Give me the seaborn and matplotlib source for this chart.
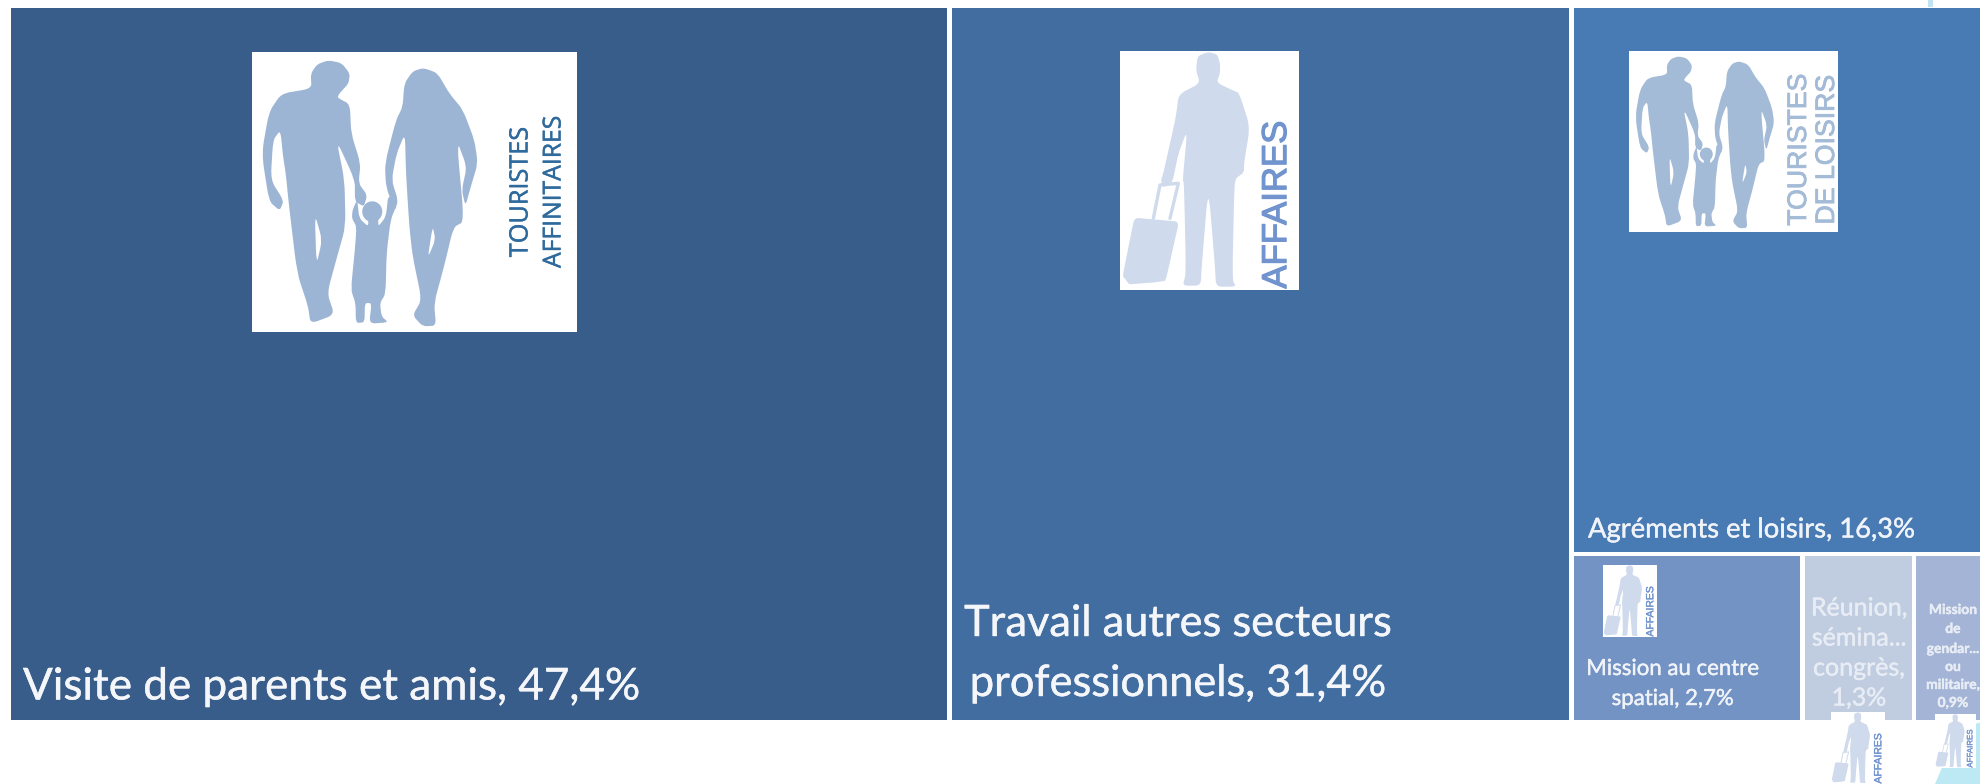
import numpy as np
import matplotlib
matplotlib.use("Agg")
import matplotlib.pyplot as plt
from matplotlib.patches import Rectangle, Polygon, Ellipse, PathPatch
from matplotlib.path import Path
import matplotlib.patheffects as pe
import seaborn as sns

# ---- data ----
categories = ["Visite de parents et amis", "Travail autres secteurs professionnels",
              "Agréments et loisirs", "Mission au centre spatial",
              "Réunion, séminaire, congrès", "Mission de gendarmerie ou militaire"]
values = [47.4, 31.4, 16.3, 2.7, 1.3, 0.9]
colors = ["#385D8A", "#426DA0", "#487AB4", "#7293C4", "#C0CCE0", "#A3B4D6"]
labels = [["Visite de parents et amis, 47,4%"],
          ["Travail autres secteurs", "professionnels, 31,4%"],
          ["Agréments et loisirs, 16,3%"],
          ["Mission au centre", "spatial, 2,7%"],
          ["Réunion,", "sémina...", "congrès,", "1,3%"],
          ["Mission", "de", "gendar...", "ou", "militaire,", "0,9%"]]

sns.set_theme(style="white")
plt.rcParams["font.family"] = ["Lato", "DejaVu Sans"]
palette = sns.color_palette(colors)

fig = plt.figure(figsize=(19.81, 7.84), dpi=100)
ax = fig.add_axes([0, 0, 1, 1])
ax.axis("off")

# ---- treemap layout derived from values ----
X0, X1, Y0, Y1, GAP = 11, 1991, 8, 720, 2.3
total = sum(values)
sx = (X1 - X0) / total
xa = X0 + values[0] * sx
xb = xa + values[1] * sx
ysplit = Y0 + (Y1 - Y0) * values[2] / sum(values[2:]) - 1.5
low = sum(values[3:])
xc = xb + (X1 - xb) * values[3] / low
xd = xc + (X1 - xb) * values[4] / low
cells = [(X0, Y0, xa, Y1), (xa, Y0, xb, Y1), (xb, Y0, X1, ysplit),
         (xb, ysplit, xc, Y1), (xc, ysplit, xd, Y1), (xd, ysplit, X1, Y1)]
for i, (a, b, c, d) in enumerate(cells):
    l = a + GAP if i else a
    t = b + GAP if b > Y0 else b
    r = c - GAP
    bt = d if d == Y1 else d - GAP
    ax.add_patch(Rectangle((l, t), r - l, bt - t, fc=palette[i], ec="none", zorder=1))

# ---- decoration behind the small pictograms ----
ax.add_patch(Polygon([(1935, 784), (1958, 730), (1981, 722), (1981, 784)],
                     fc="#BDE9F5", ec="none", zorder=1))
ax.add_patch(Rectangle((1928, 0), 5, 6.5, fc="#BFE3F3", ec="none", zorder=1))

# ---- pictogram outlines (icon-local units) ----
MAN = [(265,60),(305,68),(330,100),(326,130),(300,158),(292,172),(330,192),(334,280),(362,370),(356,430),
       (382,465),(372,500),(345,484),(345,420),(290,300),(314,420),(317,560),(292,650),(262,760),
       (284,825),(212,852),(205,800),(172,700),(148,500),(138,400),(130,350),(122,270),(100,300),
       (93,420),(132,482),(120,512),(88,484),(66,340),(88,215),(125,160),(215,145),(213,100),(232,72)]
MAN_GAP = [(225,522),(247,600),(230,675)]
WOMAN = [(550,83),(592,98),(628,160),(668,208),(703,300),(713,370),(692,440),(676,498),(665,450),
         (680,380),(650,300),(672,545),(640,562),(612,680),(582,790),(588,858),(548,860),(518,827),
         (545,780),(518,650),(508,560),(498,400),(495,280),(470,340),(455,420),(474,480),(465,514),
         (438,440),(435,370),(468,240),(488,200),(493,130),(518,93)]
WOMAN_GAP = [(578,558),(586,600),(563,655)]
CHILD = [(338,510),(352,478),(358,535),(385,560),(385,530),(415,530),(415,560),(438,530),(445,465),(472,490),(452,540),
         (440,640),(437,762),(420,790),(425,830),(445,848),(388,852),(395,790),(375,790),(374,848),
         (348,850),(347,790),(333,750),(345,630),(350,560),(336,535)]
BUSINESS = [(325,36),(352,43),(360,70),(360,100),(350,128),(402,153),(417,158),(450,260),(432,370),
            (432,397),(405,417),(402,480),(397,720),(408,740),(348,740),(345,680),(325,440),(305,680),
            (302,737),(248,737),(258,700),(252,430),(248,420),(262,270),(235,340),(217,430),(188,442),
            (183,420),(190,400),(228,230),(236,163),(300,130),(288,90),(293,48)]
SUITCASE = [(103,533),(237,545),(197,722),(165,727),(88,733),(68,708)]
HANDLE = [(160,535),(180,435),(235,430),(210,535)]


def fam_map(box, ox, oy, w, h):
    x0, y0, x1, y1 = box
    return lambda p: [(x0 + (a - ox) / w * (x1 - x0), y0 + (b - oy) / h * (y1 - y0)) for a, b in p]


def smooth_patch(points, tone, zorder, f=0.3):
    """Closed outline whose corners are rounded only near each vertex."""
    pts = np.asarray(points, dtype=float)
    prev = np.roll(pts, 1, axis=0)
    nxt = np.roll(pts, -1, axis=0)
    verts, codes = [], []
    for k, (p, a, b) in enumerate(zip(pts, prev, nxt)):
        verts += [p + f * (a - p), p, p + f * (b - p)]
        codes += [Path.MOVETO if k == 0 else Path.LINETO, Path.CURVE3, Path.CURVE3]
    verts.append(verts[0])
    codes.append(Path.LINETO)
    return PathPatch(Path(verts, codes), fc=tone, ec="none", zorder=zorder)


def family_icon(box, tone, vtext):
    x0, y0, x1, y1 = box
    ax.add_patch(Rectangle((x0, y0), x1 - x0, y1 - y0, fc="white", ec="none", zorder=2))
    m = fam_map(box, 37, 35, 973, 842)
    for shape in (MAN, WOMAN, CHILD):
        ax.add_patch(smooth_patch(m(shape), tone, 3))
    for hole in (MAN_GAP, WOMAN_GAP):
        ax.add_patch(smooth_patch(m(hole), "white", 4))
    (cx, cy), = m([(397, 515)])
    ax.add_patch(Ellipse((cx, cy), 60 / 973 * (x1 - x0), 62 / 842 * (y1 - y0), fc=tone, ec="none", zorder=3))
    for txt, tx, ty, size, col, fam, lw in vtext:
        t = ax.text(tx, ty, txt, rotation=90, ha="center", va="center", fontsize=size, color=col,
                    family=fam, zorder=5)
        t.set_path_effects([pe.withStroke(linewidth=lw, foreground=col)])


def business_icon(box, size):
    x0, y0, x1, y1 = box
    ax.add_patch(Rectangle((x0, y0), x1 - x0, y1 - y0, fc="white", ec="none", zorder=2))
    m = fam_map(box, 60, 33, 537, 717)
    tone = "#CFDAEC"
    ax.add_patch(smooth_patch(m(BUSINESS), tone, 3))
    ax.add_patch(smooth_patch(m(SUITCASE), tone, 3, f=0.1))
    hx, hy = zip(*m(HANDLE))
    ax.plot(hx, hy, color=tone, lw=2.4 * (x1 - x0) / 179, zorder=3, solid_joinstyle="round")
    w = x1 - x0
    h = y1 - y0
    t = ax.text(x0 + 0.875 * w, y1 - 0.006 * h, "AFFAIRES", rotation=90, ha="center", va="bottom",
                fontsize=size, color="#7194CF", family="Liberation Sans", zorder=5)
    t.set_path_effects([pe.withStroke(linewidth=size * 0.035, foreground="#7194CF")])


family_icon((252, 52, 577, 332), "#9DB5D5",
            [("TOURISTES", 521, 192, 18.2, "#2F6A9D", "Open Sans", 0.3),
             ("AFFINITAIRES", 554, 192, 17.8, "#2F6A9D", "Open Sans", 0.3)])
family_icon((1629, 51, 1838, 232), "#A3BBD7",
            [("TOURISTES", 1799, 150, 19.2, "#A3BBD7", "Liberation Sans", 0.6),
             ("DE LOISIRS", 1827, 150, 19.2, "#A3BBD7", "Liberation Sans", 0.6)])
business_icon((1120, 51, 1299, 290), 25)
business_icon((1603, 565, 1657, 637), 7.5)
business_icon((1831, 712, 1885, 784), 7.5)
business_icon((1935, 714, 1976, 768), 5.7)

# ---- labels ----
placements = [
    (23, [687], "left", 31.7, "#F4F6FA", "normal"),
    (1178, [624, 684], "center", 31.2, "#F4F6FA", "normal"),
    (1588, [530], "left", 19.7, "#F0F3F8", "normal"),
    (1673, [669, 699], "center", 16, "#F0F3F8", "normal"),
    (1859, [608, 638, 668, 698], "center", 18, "#E8EDF5", "normal"),
    (1953, [610, 629, 649, 667, 685, 703], "center", 10, "#E8EDF5", "bold"),
]
for lines, (x, ys, ha, size, col, wt) in zip(labels, placements):
    for line, y in zip(lines, ys):
        t = ax.text(x, y, line, ha=ha, va="center", fontsize=size, color=col, fontweight=wt, zorder=6)
        t.set_path_effects([pe.withStroke(linewidth=0.3, foreground=col)])

ax.set_xlim(0, 1981)
ax.set_ylim(784, 0)
fig.savefig("out.png", dpi=100, facecolor="white")
